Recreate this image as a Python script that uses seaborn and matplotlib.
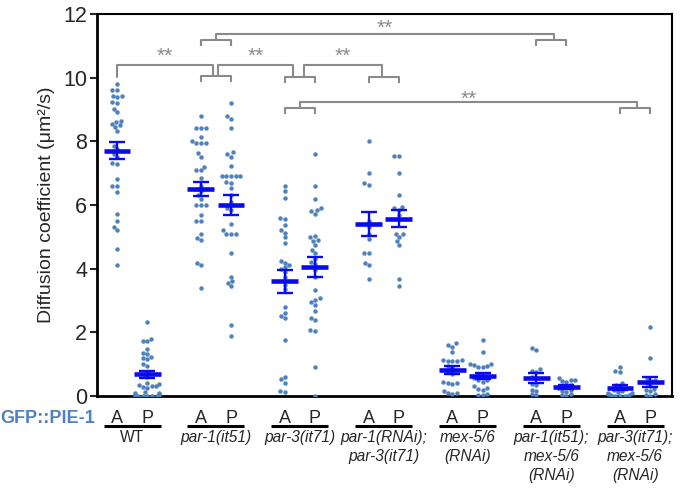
import matplotlib
matplotlib.use("Agg")
import matplotlib.pyplot as plt
import numpy as np
import pandas as pd
import seaborn as sns

# conditions (x groups) and the two measured cytoplasm halves
conditions = ["WT", "par-1(it51)", "par-3(it71)", "par-1(RNAi);\npar-3(it71)",
              "mex-5/6\n(RNAi)", "par-1(it51);\nmex-5/6\n(RNAi)",
              "par-3(it71);\nmex-5/6\n(RNAi)"]
italic = [False, True, True, True, True, True, True]
sides = ["A", "P"]

# diffusion coefficients (um^2/s)
wt_a = [9.81, 9.62, 9.6, 9.43, 9.43, 9.4, 9.22, 9.2, 9.01, 8.91, 8.63, 8.6, 8.55,
        8.5, 8.45, 8.32, 7.85, 7.75, 7.6, 7.5, 7.32, 7.3, 6.81, 6.6, 6.58, 6.4,
        5.72, 5.51, 5.3, 5.2, 4.61, 4.12]
wt_p = [2.32, 1.78, 1.72, 1.72, 1.48, 1.35, 1.32, 1.22, 1.2, 1.15, 1.0, 0.95,
        0.75, 0.7, 0.6, 0.4, 0.38, 0.35, 0.3, 0.3, 0.28, 0.25, 0.12, 0.1, 0.08,
        0.05, 0.03, 0.02, 0.01, 0.0, 0.0, 0.0, 0.0, 0.0]
par1_a = [8.8, 8.42, 8.42, 8.42, 8.12, 8.02, 7.95, 7.95, 7.95, 7.62, 7.52, 7.2,
          7.1, 7.1, 6.85, 6.6, 6.5, 6.45, 6.3, 6.2, 6.0, 6.0, 6.0, 5.7, 5.5,
          5.5, 5.1, 4.95, 4.9, 4.17, 4.12, 3.4]
par1_p = [9.2, 8.78, 8.7, 8.42, 7.65, 7.6, 7.52, 7.21, 6.92, 6.92, 6.92, 6.92,
          6.92, 6.72, 6.7, 6.53, 6.3, 6.1, 5.9, 5.85, 5.41, 5.2, 5.1, 5.1, 5.1,
          4.49, 3.75, 3.6, 3.55, 3.45, 2.23, 1.89]
par3_a = [6.61, 6.43, 6.21, 5.6, 5.55, 5.38, 5.22, 5.12, 4.98, 4.8, 4.25, 4.19,
          4.1, 4.05, 3.98, 3.9, 3.75, 3.5, 3.35, 2.78, 2.6, 2.52, 2.46, 1.76,
          0.6, 0.52, 0.42, 0.17, 0.13]
par3_p = [7.61, 6.61, 6.19, 5.92, 5.85, 5.8, 5.72, 5.02, 4.98, 4.9, 4.88, 4.75,
          4.6, 4.5, 4.3, 4.2, 4.15, 3.95, 3.75, 3.33, 3.07, 3.02, 2.95, 2.86,
          2.68, 2.45, 2.38, 2.07, 2.03, 0.92, 0.0]
par1rnai_par3_a = [8.02, 7.0, 6.7, 6.64, 5.5, 5.3, 5.09, 4.93, 4.49, 4.49, 4.19,
                   4.12, 3.67]
par1rnai_par3_p = [7.53, 7.53, 7.0, 6.32, 5.95, 5.9, 5.85, 5.7, 5.55, 5.1, 5.08,
                   5.0, 4.88, 4.75, 3.67, 3.44]
mex_a = [1.65, 1.6, 1.55, 1.38, 1.12, 1.12, 1.1, 1.1, 1.1, 0.95, 0.9, 0.75, 0.7,
         0.45, 0.42, 0.4, 0.38, 0.15, 0.1, 0.08, 0.05]
mex_p = [1.76, 1.39, 1.02, 1.0, 0.98, 0.95, 0.92, 0.9, 0.7, 0.6, 0.55, 0.5, 0.5,
         0.45, 0.3, 0.25, 0.21, 0.2, 0.05, 0.03, 0.02]
par1_mex_a = [1.5, 1.45, 0.84, 0.78, 0.75, 0.6, 0.55, 0.38, 0.36, 0.2, 0.17,
              0.05, 0.03]
par1_mex_p = [0.58, 0.5, 0.5, 0.48, 0.45, 0.35, 0.3, 0.25, 0.2, 0.16, 0.14,
              0.05, 0.02, 0.0]
par3_mex_a = [0.9, 0.78, 0.76, 0.42, 0.35, 0.3, 0.25, 0.2, 0.15, 0.12, 0.1,
              0.08, 0.05, 0.03, 0.02, 0.0, 0.0, 0.0]
par3_mex_p = [2.16, 1.18, 0.55, 0.5, 0.48, 0.4, 0.3, 0.22, 0.18, 0.15, 0.05,
              0.03, 0.0]

# mean +/- SEM as drawn
mean_a = [7.7, 6.5, 3.6, 5.4, 0.81, 0.57, 0.26]
sem_a = [0.27, 0.22, 0.37, 0.38, 0.12, 0.15, 0.08]
mean_p = [0.68, 6.0, 4.05, 5.57, 0.63, 0.29, 0.45]
sem_p = [0.1, 0.3, 0.32, 0.27, 0.1, 0.07, 0.16]

groups_a = [wt_a, par1_a, par3_a, par1rnai_par3_a, mex_a, par1_mex_a, par3_mex_a]
groups_p = [wt_p, par1_p, par3_p, par1rnai_par3_p, mex_p, par1_mex_p, par3_mex_p]

OFF = 0.18
DOT = "#4f81bd"
BLUE = "#0a0af0"
GREY = "#8a8a8a"

rows = []
for i in range(len(conditions)):
    for side, vals in zip(sides, (groups_a[i], groups_p[i])):
        pos = i - OFF if side == "A" else i + OFF
        for v in vals:
            rows.append({"pos": pos, "side": side, "value": v})
df = pd.DataFrame(rows)

sns.set_style("ticks")
plt.rcParams["font.family"] = ["Liberation Sans", "DejaVu Sans"]

fig = plt.figure(figsize=(6.8, 4.88), dpi=100)
ax = fig.add_axes([0.1426, 0.1885, 0.8456, 0.783])

sns.swarmplot(data=df, x="pos", y="value", native_scale=True, color=DOT,
              size=3.2, linewidth=0, warn_thresh=1, ax=ax)

# mean and SEM bars
xa = np.arange(len(conditions)) - OFF
xp = np.arange(len(conditions)) + OFF
for xs, m, s in ((xa, mean_a, sem_a), (xp, mean_p, sem_p)):
    ax.hlines(m, xs - 0.16, xs + 0.16, color=BLUE, lw=3.3, zorder=5)
    ax.errorbar(xs, m, yerr=s, fmt="none", ecolor=BLUE, elinewidth=1.7,
                capsize=6, capthick=1.7, zorder=5)

ax.set_xlim(-0.42, 6.44)
ax.set_ylim(0, 12)
ax.set_yticks(range(0, 13, 2))
ax.set_xticks([])
ax.set_xlabel("")
ax.set_ylabel("Diffusion coefficient (μm²/s)", fontsize=14, labelpad=6)
ax.tick_params(axis="y", labelsize=15.5, width=1.5, length=5, pad=2)
for name, sp in ax.spines.items():
    sp.set_visible(True)
    sp.set_color("black")
    sp.set_linewidth(2 if name in ("left", "bottom") else 1.5)


# significance brackets
def sub_bracket(c, y, depth=0.19):
    ax.plot([c - OFF, c - OFF, c + OFF, c + OFF], [y - depth, y, y, y - depth],
            color=GREY, lw=1.5, clip_on=False, solid_capstyle="butt")


def bracket(x1, y1, x2, y2, top, label_y):
    ax.plot([x1, x1, x2, x2], [y1, top, top, y2], color=GREY, lw=1.5,
            clip_on=False)
    ax.text((x1 + x2) / 2, label_y, "**", ha="center", va="baseline",
            color=GREY, fontsize=15)


sub_bracket(1, 10.04)
bracket(-OFF, 10.03, 0.964, 10.04, 10.41, 10.48)
sub_bracket(2, 10.02)
bracket(1.024, 10.04, 1.918, 10.02, 10.41, 10.48)
sub_bracket(3, 10.02)
bracket(2.05, 10.02, 2.977, 10.02, 10.41, 10.48)
sub_bracket(1, 11.17)
sub_bracket(5, 11.17)
bracket(1.0, 11.17, 5.03, 11.17, 11.38, 11.38)
sub_bracket(2, 9.05)
sub_bracket(6, 9.05)
bracket(2.0, 9.05, 6.02, 9.05, 9.24, 9.16)

# labels under the axis
tr = ax.get_xaxis_transform()
ax.text(-0.003, -0.0699, "GFP::PIE-1", transform=ax.transAxes, ha="right",
        va="baseline", color=DOT, fontsize=13, fontweight="bold")
for i, name in enumerate(conditions):
    ax.text(i - OFF, -0.0699, "A", transform=tr, ha="center", va="baseline",
            fontsize=13)
    ax.text(i + OFF, -0.0699, "P", transform=tr, ha="center", va="baseline",
            fontsize=13)
    ax.plot([i - 0.34, i + 0.34], [-0.0785, -0.0785], transform=tr,
            color="black", lw=2.2, clip_on=False, solid_capstyle="butt")
    ax.text(i, -0.089, name, transform=tr, ha="center", va="top",
            fontsize=11.2, linespacing=1.33,
            fontstyle="italic" if italic[i] else "normal")

fig.savefig("out.png", dpi=100)
